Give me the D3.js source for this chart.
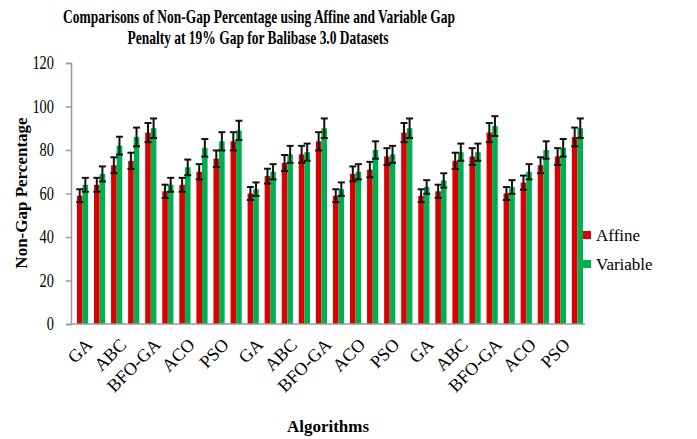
<!DOCTYPE html>
<html><head><meta charset="utf-8">
<script src="https://cdn.jsdelivr.net/npm/d3@7"></script>
<style>body{margin:0;background:#fff}svg{display:block}svg text{font-family:"Liberation Serif","Times New Roman",serif !important}</style>
</head><body><svg id="c" width="697" height="439"></svg>
<script>
const tickLabels = ["GA","ABC","BFO-GA","ACO","PSO","GA","ABC","BFO-GA","ACO","PSO","GA","ABC","BFO-GA","ACO","PSO"];
const categories = d3.range(30);
const affine =   [59,64,73,75,88, 61,64,70,76,84, 60,68,74,78,84, 59,69,71,77,88, 59,61,75,77,88, 60,65,73,77,86];
const variable = [64,69,82,86,90, 64,72,81,84,89, 62,70,78,79,90, 62,70,80,78,90, 63,66,79,79,91, 63,70,80,81,90];
const errorPercent = 5;
const seriesNames = ["Affine","Variable"];
const colors = ["#dc0000","#00b050"];
const yTicks = [0,20,40,60,80,100,120];

const svg = d3.select("#c");
const x = d3.scaleBand().domain(categories).range([74,586]).paddingInner(0).paddingOuter(0);
const y = d3.scaleLinear().domain([0,120]).range([324,63]);
const bw = 5.6;

// axes
const yAxis = svg.append("g").attr("transform","translate(71,0)")
  .call(d3.axisLeft(y).tickValues(yTicks).tickSize(5).tickPadding(12));
yAxis.attr("font-family","Liberation Serif");
yAxis.select(".domain").attr("stroke","#9a9a9a").attr("stroke-width",1.5);
yAxis.selectAll(".tick line").attr("stroke","#9a9a9a").attr("stroke-width",1.5);
yAxis.selectAll(".tick text").attr("font-size",18).attr("fill","#000")
  .attr("textLength", d => String(d).length*7.2).attr("lengthAdjust","spacingAndGlyphs");

const bars = svg.append("g");
[affine, variable].forEach((vals, s) => {
  bars.selectAll(null).data(vals).enter().append("rect")
    .attr("x", (d,i) => x(i) + x.bandwidth()/2 - bw + s*bw)
    .attr("y", d => y(d))
    .attr("width", bw)
    .attr("height", d => y(0) - y(d))
    .attr("fill", colors[s]);
});
// x axis line
svg.append("line").attr("x1",71).attr("x2",585).attr("y1",y(0)).attr("y2",y(0))
  .attr("stroke","#9a9a9a").attr("stroke-width",1.5);

// error bars
const eb = svg.append("g").attr("stroke","#111").attr("stroke-width",2);
[affine, variable].forEach((vals, s) => {
  vals.forEach((d,i) => {
    const cx = x(i) + x.bandwidth()/2 - bw/2 + s*bw;
    const e = d*errorPercent/100;
    eb.append("line").attr("x1",cx).attr("x2",cx).attr("y1",y(d+e)).attr("y2",y(d-e));
    eb.append("line").attr("x1",cx-3.5).attr("x2",cx+3.5).attr("y1",y(d+e)).attr("y2",y(d+e));
    eb.append("line").attr("x1",cx-3.5).attr("x2",cx+3.5).attr("y1",y(d-e)).attr("y2",y(d-e));
  });
});

// x tick labels
tickLabels.forEach((t,k) => {
  const i = k*2;
  const cx = x(i) + x.bandwidth()/2;
  svg.append("text").attr("transform",`translate(${cx+2},${337}) rotate(-45)`)
    .attr("text-anchor","end").attr("dy","0.7em").attr("font-size",18).text(t);
});

// title
svg.append("text").attr("x",259).attr("y",23).attr("text-anchor","middle")
  .attr("font-weight","bold").attr("font-size",19)
  .attr("textLength",392).attr("lengthAdjust","spacingAndGlyphs")
  .text("Comparisons of Non-Gap Percentage using Affine and Variable Gap");
svg.append("text").attr("x",258).attr("y",44).attr("text-anchor","middle")
  .attr("font-weight","bold").attr("font-size",19)
  .attr("textLength",261).attr("lengthAdjust","spacingAndGlyphs")
  .text("Penalty at 19% Gap for Balibase 3.0 Datasets");

// axis titles
svg.append("text").attr("transform","translate(27,193) rotate(-90)").attr("text-anchor","middle")
  .attr("font-weight","bold").attr("font-size",17).text("Non-Gap Percentage");
svg.append("text").attr("x",328).attr("y",432).attr("text-anchor","middle")
  .attr("font-weight","bold").attr("font-size",17).text("Algorithms");

// legend
seriesNames.forEach((n,s) => {
  const ly = 236 + s*29;
  svg.append("rect").attr("x",583).attr("y",ly-5).attr("width",8).attr("height",8).attr("fill",colors[s]);
  svg.append("text").attr("x",596).attr("y",ly+5).attr("font-size",17).text(n);
});
</script></body></html>
